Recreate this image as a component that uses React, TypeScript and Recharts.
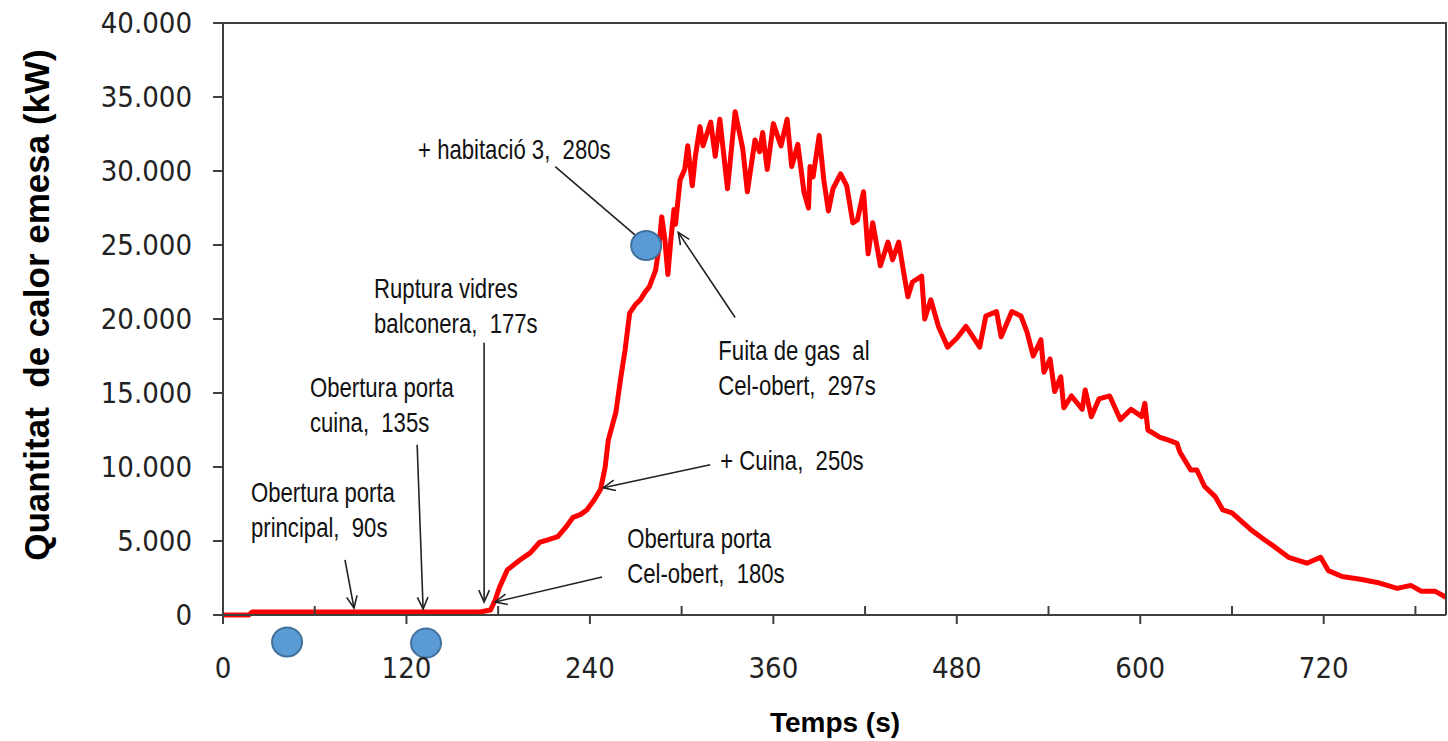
import { Line, LineChart, ReferenceDot, ReferenceLine, XAxis, YAxis } from "recharts"

const AXIS = "#404040"
const TICK_FONT = "'DejaVu Sans Condensed', 'DejaVu Sans', sans-serif"
const NOTE_FONT = "'Liberation Sans', Arial, sans-serif"
const MARGIN = { top: 23, right: 2, bottom: 0, left: 0 }

// temps (s)
const times = [
  0, 17, 19, 60, 120, 165, 168, 175, 178, 181,
  186, 194, 201, 207, 213, 219, 224, 229, 234, 238,
  243, 247, 250, 252, 257, 260, 263, 266, 270, 273,
  276, 279, 283, 285, 287, 289, 291, 293, 295, 296,
  299, 302, 304, 307, 309, 312, 314, 319, 322, 325,
  330, 335, 340, 343, 348, 351, 353, 356, 360, 365,
  369, 372, 376, 380, 383, 384, 386, 390, 393, 396,
  399, 404, 408, 412, 415, 419, 422, 425, 430, 435,
  438, 442, 445, 448, 451, 457, 459, 463, 468, 474,
  480, 486, 495, 499, 506, 509, 516, 522, 526, 530,
  535, 537, 541, 544, 548, 550, 555, 562, 564, 568,
  573, 580, 587, 594, 601, 603, 605, 613, 619, 624,
  626, 633, 637, 642, 649, 654, 660, 672, 681, 688,
  697, 709, 718, 723, 732, 745, 755, 768, 777, 784,
  793, 800,
]

// quantitat de calor emesa (kW)
const heat = [
  0, 0, 200, 200, 200, 200, 200, 340, 1000, 1900,
  3050, 3700, 4200, 4900, 5100, 5300, 5900, 6600, 6800, 7100,
  7800, 8500, 10000, 11800, 13700, 15900, 17900, 20400, 21000, 21300,
  21800, 22200, 23300, 24700, 26900, 25400, 23000, 25400, 27400, 26400,
  29400, 30100, 31700, 29000, 31000, 33000, 31700, 33300, 31000, 33500,
  28800, 34000, 31500, 28600, 32100, 31300, 32600, 30100, 33200, 31700,
  33500, 30300, 31800, 28600, 27500, 30300, 29600, 32400, 29400, 27300,
  28800, 29800, 29000, 26500, 26700, 28600, 24400, 26500, 23600, 25200,
  24000, 25200, 23300, 21500, 22500, 22900, 20000, 21300, 19500, 18100,
  18700, 19500, 18100, 20200, 20500, 18800, 20500, 20200, 19100, 17500,
  18600, 16400, 17300, 15100, 16100, 14000, 14800, 13900, 15200, 13400,
  14600, 14800, 13200, 13900, 13400, 14300, 12500, 12000, 11800, 11600,
  11000, 9800, 9800, 8700, 8000, 7100, 6900, 5800, 5100, 4600,
  3900, 3500, 3900, 3000, 2600, 2400, 2200, 1800, 2000, 1600,
  1600, 1200,
]

const xTicks = [0, 60, 120, 180, 240, 300, 360, 420, 480, 540, 600, 660, 720, 780]
const yTicks = [0, 5000, 10000, 15000, 20000, 25000, 30000, 35000, 40000]

// textos d'esdeveniments (punt = inici de la primera línia)
const notes = [
  { t: 18.3, q: 7650, lines: ["Obertura porta", "principal,  90s"] },
  { t: 56.9, q: 14750, lines: ["Obertura porta", "cuina,  135s"] },
  { t: 98.8, q: 21450, lines: ["Ruptura vidres", "balconera,  177s"] },
  { t: 127.6, q: 30800, lines: ["+ habitació 3,  280s"] },
  { t: 324, q: 17250, lines: ["Fuita de gas  al", "Cel-obert,  297s"] },
  { t: 325.3, q: 9800, lines: ["+ Cuina,  250s"] },
  { t: 264.4, q: 4530, lines: ["Obertura porta", "Cel-obert,  180s"] },
]

const arrows = [
  { x1: 79.8, y1: 3720, x2: 85.7, y2: 470, head: true },
  { x1: 127, y1: 11500, x2: 130.9, y2: 400, head: true },
  { x1: 170.8, y1: 18400, x2: 170.8, y2: 880, head: true },
  { x1: 217.3, y1: 30300, x2: 272.9, y2: 25380, head: false },
  { x1: 335, y1: 20100, x2: 297.8, y2: 25850, head: true },
  { x1: 318.7, y1: 10150, x2: 248.7, y2: 8600, head: true },
  { x1: 248, y1: 2570, x2: 178, y2: 880, head: true },
]

const markers = [
  { t: 41.9, q: -1830 },
  { t: 132.8, q: -1900 },
  { t: 276.8, q: 24970 },
]

const data = times.map((t, i) => ({ t, q: heat[i] }))

function TimeTick(props: any) {
  const { x, y, payload } = props
  const v = payload.value
  if (v % 120 !== 0) {
    return <line x1={x} y1={y} x2={x} y2={y - 9} stroke={AXIS} strokeWidth={2} />
  }
  return (
    <g>
      <line x1={x} y1={y} x2={x} y2={y + 9} stroke={AXIS} strokeWidth={2} />
      <text x={x} y={y + 63} textAnchor="middle" fontFamily={TICK_FONT} fontSize={29} fill="#222">
        {v}
      </text>
    </g>
  )
}

function fmtKw(v: number) {
  return v === 0 ? "0" : `${v / 1000}.000`
}

function noteShape(lines: string[]) {
  return (p: any) => (
    <g transform={`translate(${p.cx},${p.cy}) scale(0.82,1)`}>
      <text fontFamily={NOTE_FONT} fontSize={27} fill="#111" style={{ whiteSpace: "pre" }}>
        {lines.map((s, i) => (
          <tspan key={i} x={0} y={i * 35}>
            {s}
          </tspan>
        ))}
      </text>
    </g>
  )
}

function arrowShape(head: boolean) {
  return (p: any) => {
    const { x1, y1, x2, y2 } = p
    const a = Math.atan2(y2 - y1, x2 - x1)
    const L = 13
    const h1x = x2 - L * Math.cos(a - 0.42)
    const h1y = y2 - L * Math.sin(a - 0.42)
    const h2x = x2 - L * Math.cos(a + 0.42)
    const h2y = y2 - L * Math.sin(a + 0.42)
    return (
      <g stroke="#222" strokeWidth={1.6} fill="none">
        <line x1={x1} y1={y1} x2={x2} y2={y2} />
        {head && <polyline points={`${h1x},${h1y} ${x2},${y2} ${h2x},${h2y}`} />}
      </g>
    )
  }
}

function markerShape(p: any) {
  return <ellipse cx={p.cx} cy={p.cy} rx={15} ry={14.5} fill="#5B9BD5" stroke="#41719C" strokeWidth={2} />
}

function YTitle() {
  return (
    <text
      x={49}
      y={305}
      transform="rotate(-90, 49, 305)"
      textAnchor="middle"
      fontFamily={NOTE_FONT}
      fontWeight="bold"
      fontSize={35}
      fill="#000"
      style={{ whiteSpace: "pre" }}
    >
      Quantitat  de calor emesa (kW)
    </text>
  )
}

// títol de l'eix X + marc superior i dret de l'àrea del gràfic
function XTitle(props: any) {
  const vb = props.viewBox || { x: 223, y: 615, width: 1223 }
  const left = vb.x
  const right = vb.x + vb.width
  const top = MARGIN.top
  const bottom = vb.y
  return (
    <g>
      <polyline
        points={`${left},${top} ${right},${top} ${right},${bottom}`}
        fill="none"
        stroke={AXIS}
        strokeWidth={2}
      />
      <text x={835} y={732} textAnchor="middle" fontFamily={NOTE_FONT} fontWeight="bold" fontSize={28} fill="#000">
        Temps (s)
      </text>
    </g>
  )
}

export default function App() {
  return (
    <div style={{ position: "absolute", left: 0, top: 0, background: "#fff" }}>
      <LineChart width={1448} height={741} data={data} margin={MARGIN}>
        <XAxis
          dataKey="t"
          type="number"
          domain={[0, 800]}
          ticks={xTicks}
          interval={0}
          height={126}
          tickSize={0}
          tickMargin={0}
          tickLine={false}
          tick={<TimeTick />}
          axisLine={{ stroke: AXIS, strokeWidth: 2 }}
          label={<XTitle />}
        />
        <YAxis
          type="number"
          domain={[0, 40000]}
          ticks={yTicks}
          interval={0}
          width={223}
          tickSize={10}
          tickMargin={21}
          tickFormatter={fmtKw}
          tick={{ fontFamily: TICK_FONT, fontSize: 29, fill: "#222" }}
          tickLine={{ stroke: AXIS, strokeWidth: 2 }}
          axisLine={{ stroke: AXIS, strokeWidth: 2 }}
          label={<YTitle />}
        />
        <Line
          dataKey="q"
          type="linear"
          stroke="#ff0000"
          strokeWidth={5}
          strokeLinejoin="round"
          dot={false}
          activeDot={false}
          isAnimationActive={false}
        />
        {arrows.map((a, i) => (
          <ReferenceLine
            key={`a${i}`}
            segment={[
              { x: a.x1, y: a.y1 },
              { x: a.x2, y: a.y2 },
            ]}
            ifOverflow="visible"
            shape={arrowShape(a.head)}
          />
        ))}
        {notes.map((n, i) => (
          <ReferenceDot key={`n${i}`} x={n.t} y={n.q} r={0} ifOverflow="visible" shape={noteShape(n.lines)} />
        ))}
        {markers.map((m, i) => (
          <ReferenceDot key={`m${i}`} x={m.t} y={m.q} r={15} ifOverflow="visible" shape={markerShape} />
        ))}
      </LineChart>
    </div>
  )
}
